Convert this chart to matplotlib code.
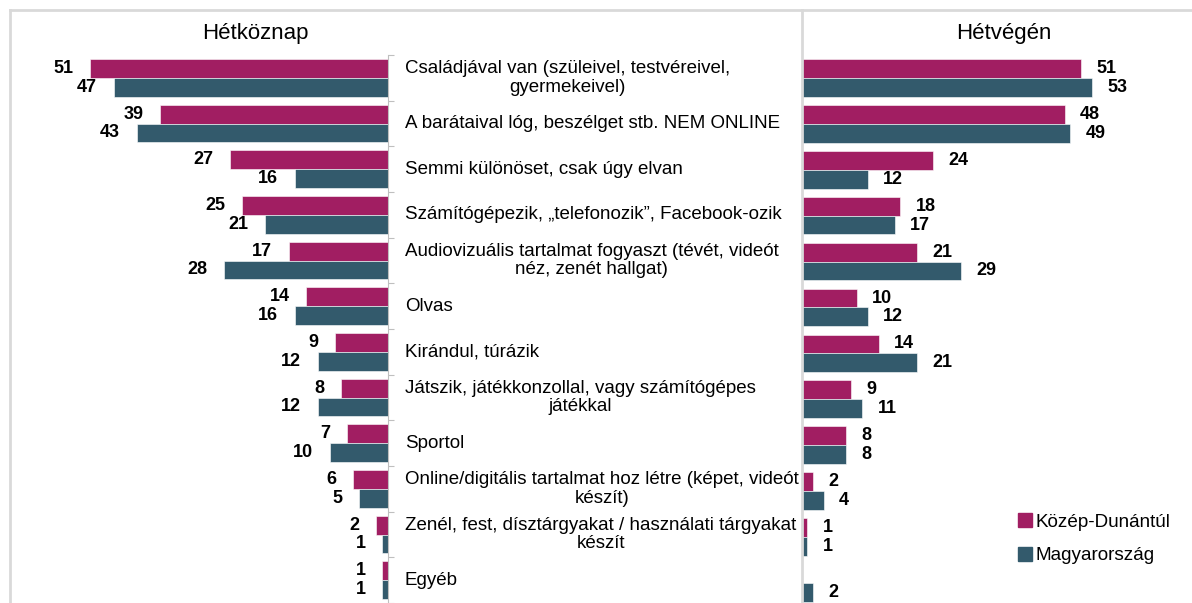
import matplotlib
matplotlib.use("Agg")
import matplotlib.pyplot as plt
from matplotlib.lines import Line2D
from matplotlib.transforms import blended_transform_factory

plt.rcParams['font.family'] = ['Liberation Sans', 'DejaVu Sans']

categories = [
    "Családjával van (szüleivel, testvéreivel,\ngyermekeivel)",
    "A barátaival lóg, beszélget stb. NEM ONLINE",
    "Semmi különöset, csak úgy elvan",
    "Számítógépezik, „telefonozik”, Facebook-ozik",
    "Audiovizuális tartalmat fogyaszt (tévét, videót\nnéz, zenét hallgat)",
    "Olvas",
    "Kirándul, túrázik",
    "Játszik, játékkonzollal, vagy számítógépes\njátékkal",
    "Sportol",
    "Online/digitális tartalmat hoz létre (képet, videót\nkészít)",
    "Zenél, fest, dísztárgyakat / használati tárgyakat\nkészít",
    "Egyéb",
]
series_names = ["Közép-Dunántúl", "Magyarország"]
weekday_kd = [51, 39, 27, 25, 17, 14, 9, 8, 7, 6, 2, 1]
weekday_mo = [47, 43, 16, 21, 28, 16, 12, 12, 10, 5, 1, 1]
weekend_kd = [51, 48, 24, 18, 21, 10, 14, 9, 8, 2, 1, 0]
weekend_mo = [53, 49, 12, 17, 29, 12, 21, 11, 8, 4, 1, 2]

PINK = '#A11E62'
TEAL = '#335A6C'
GRID = '#D9D9D9'

W, H = 1192, 603
fig = plt.figure(figsize=(W / 100, H / 100), dpi=100)

top = (H - 55) / H
ax_l = fig.add_axes([30 / W, 0, 358 / W, top])
ax_r = fig.add_axes([802 / W, 0, 378 / W, top])

n = len(categories)
ypos = list(range(n))
bh = 0.41


def draw(ax, kd, mo, side):
    ax.barh([y - bh / 2 for y in ypos], kd, height=bh, color=PINK,
            edgecolor='white', linewidth=0.4)
    ax.barh([y + bh / 2 for y in ypos], mo, height=bh, color=TEAL,
            edgecolor='white', linewidth=0.4)
    dx = -12 if side == 'left' else 11
    ha = 'right' if side == 'left' else 'left'
    for vals, off in ((kd, -bh / 2), (mo, bh / 2)):
        for y, v in zip(ypos, vals):
            if v == 0:
                continue
            ax.annotate(str(v), (v, y + off), xytext=(dx, 0),
                        textcoords='offset points', ha=ha, va='center',
                        fontsize=13, fontweight='bold', color='black')
    ax.set_ylim(11.44, -0.5)
    for s in ax.spines.values():
        s.set_visible(False)
    ax.set_xticks([])


draw(ax_l, weekday_kd, weekday_mo, 'left')
draw(ax_r, weekend_kd, weekend_mo, 'right')
ax_l.set_xlim(358 / 5.84, 0)
ax_r.set_xlim(0, 378 / 5.47)

# left panel axis line with boundary ticks
ax_l.spines['right'].set_visible(True)
ax_l.spines['right'].set_color('#BFBFBF')
ax_l.yaxis.tick_right()
ax_l.set_yticks([i - 0.5 for i in range(n + 1)])
ax_l.tick_params(axis='y', length=4, color='#BFBFBF', labelright=False)
ax_r.set_yticks([])

# category labels between the panels
tr = blended_transform_factory(fig.transFigure, ax_l.transData)
for y, lab in zip(ypos, categories):
    ax_l.text(405 / W, y, lab, transform=tr, ha='left', va='center',
              multialignment='center', fontsize=13.5, linespacing=1.15,
              clip_on=False)

fig.text(255 / W, 1 - 34 / H, "Hétköznap", ha='center', va='center',
         fontsize=16)
fig.text(1004 / W, 1 - 34 / H, "Hétvégén", ha='center', va='center',
         fontsize=16)

# frame lines
fig.add_artist(Line2D([9.5 / W, 1], [1 - 9.5 / H] * 2, color=GRID, lw=2,
                      transform=fig.transFigure))
fig.add_artist(Line2D([9.5 / W] * 2, [0, 1 - 9.5 / H], color=GRID, lw=2,
                      transform=fig.transFigure))
fig.add_artist(Line2D([801.5 / W] * 2, [0, 1 - 9.5 / H], color=GRID, lw=2,
                      transform=fig.transFigure))

handles = [Line2D([], [], marker='s', ls='none', color=c, markersize=10)
           for c in (PINK, TEAL)]
fig.legend(handles, series_names, loc='center left',
           bbox_to_anchor=(1008 / W, 1 - 539 / H), frameon=False,
           fontsize=13.6, handletextpad=0.05, labelspacing=0.85,
           handlelength=1.0, borderaxespad=0)

fig.savefig('out.png', dpi=100)
